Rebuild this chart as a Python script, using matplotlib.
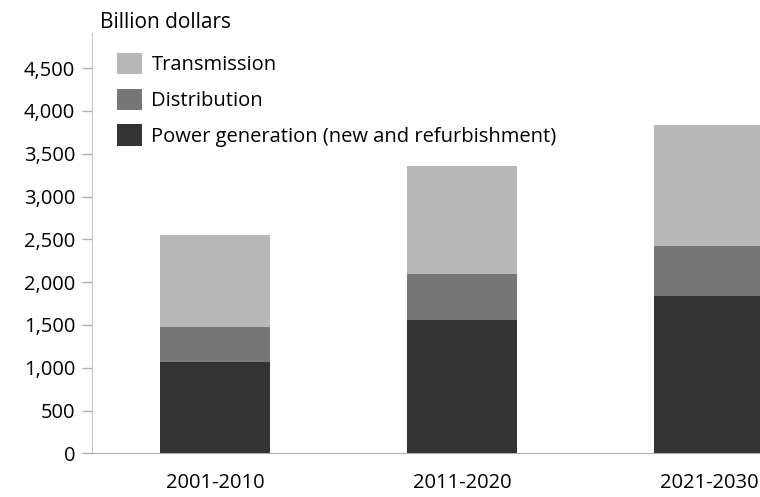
import matplotlib.pyplot as plt
from matplotlib.patches import Patch

plt.rcParams["font.family"] = ["Open Sans", "DejaVu Sans"]

periods = ["2001-2010", "2011-2020", "2021-2030"]
power_generation = [1063, 1557, 1834]
distribution = [413, 541, 588]
transmission = [1074, 1258, 1413]

colors = {
    "Transmission": "#b8b8b8",
    "Distribution": "#767676",
    "Power generation (new and refurbishment)": "#333333",
}

fig = plt.figure(figsize=(7.6, 4.97), dpi=100)
ax = fig.add_axes([0.1207, 0.0879, 0.8793, 0.8457])

x = range(len(periods))
width = 0.445
bottom2 = [p + d for p, d in zip(power_generation, distribution)]
ax.bar(x, power_generation, width, color=colors["Power generation (new and refurbishment)"])
ax.bar(x, distribution, width, bottom=power_generation, color=colors["Distribution"])
ax.bar(x, transmission, width, bottom=bottom2, color=colors["Transmission"])

ax.set_xlim(-0.499, 2.206)
ax.set_ylim(0, 4910)
ax.set_yticks(range(0, 5000, 500))
ax.set_yticklabels([f"{v:,}" for v in range(0, 5000, 500)], fontsize=14.5)
ax.set_xticks(list(x))
ax.set_xticklabels(periods, fontsize=14.5)
ax.tick_params(axis="x", length=0, pad=14)
ax.tick_params(axis="y", length=7, width=1, color="#b0b0b0", pad=5)

for side in ("top", "right"):
    ax.spines[side].set_visible(False)
ax.spines["left"].set_color("#c8c8c8")
ax.spines["bottom"].set_color("#b0b0b0")

handles = [Patch(facecolor=c, edgecolor="none", label=k) for k, c in colors.items()]
ax.legend(
    handles=handles,
    loc="upper left",
    bbox_to_anchor=(0.026, 0.972),
    frameon=False,
    fontsize=14.5,
    handlelength=1.25,
    handleheight=1.25,
    handletextpad=0.45,
    labelspacing=0.66,
    borderaxespad=0,
)

fig.text(0.1316, 0.955, "Billion dollars", fontsize=15, va="center", ha="left")

fig.savefig("out.png", dpi=100)
